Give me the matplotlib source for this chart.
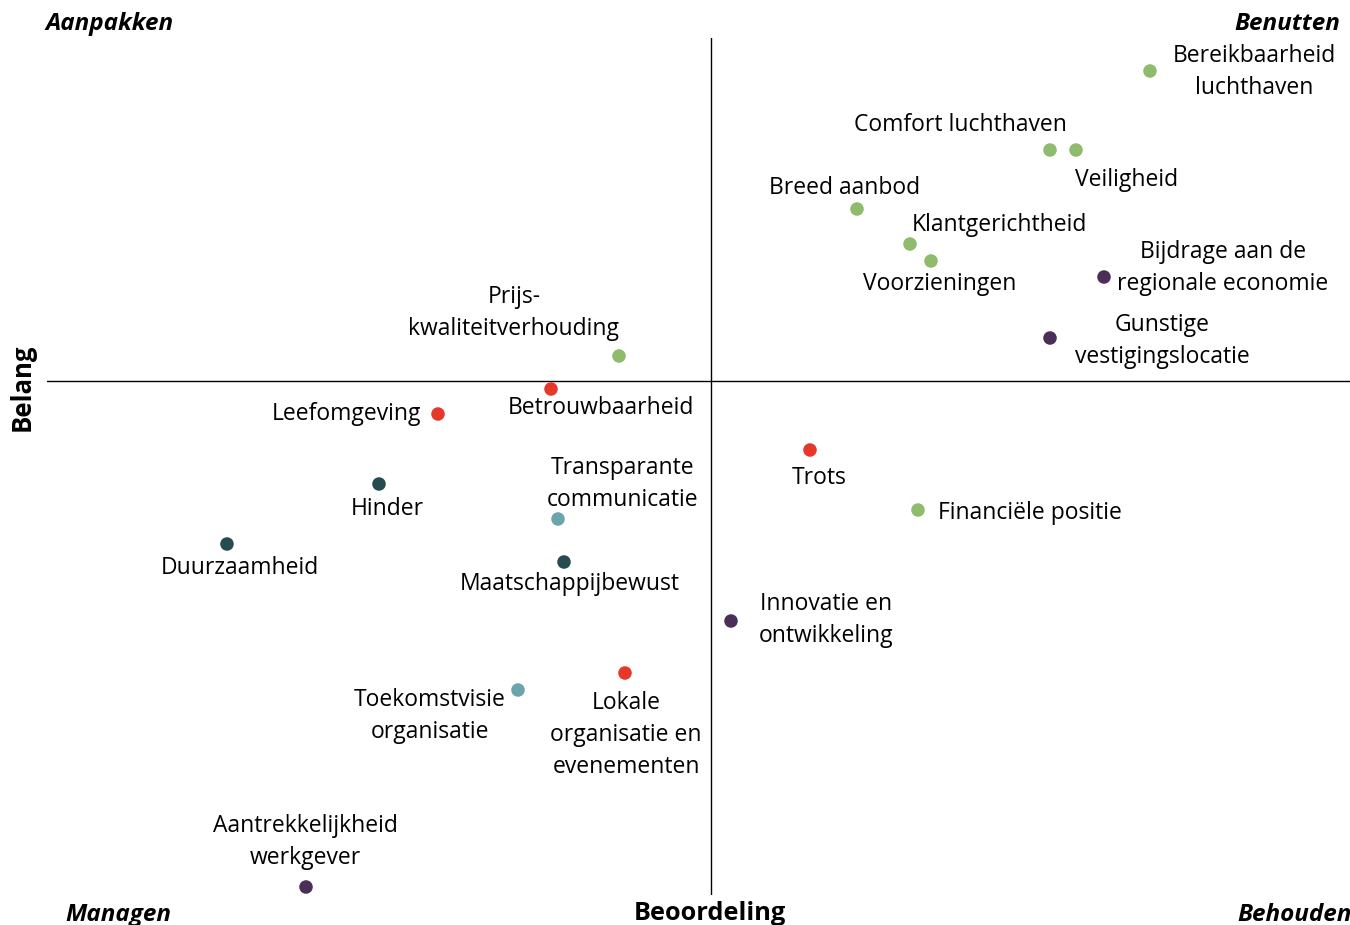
import matplotlib.pyplot as plt

plt.rcParams['font.family'] = ['Open Sans', 'DejaVu Sans']

# Beoordeling (x) en belang (y), relatief t.o.v. het gemiddelde
labels = ['Bereikbaarheid\nluchthaven', 'Comfort luchthaven', 'Veiligheid', 'Breed aanbod',
          'Klantgerichtheid', 'Voorzieningen', 'Bijdrage aan de\nregionale economie',
          'Gunstige\nvestigingslocatie', 'Prijs-\nkwaliteitverhouding', 'Betrouwbaarheid',
          'Leefomgeving', 'Hinder', 'Transparante\ncommunicatie', 'Duurzaamheid',
          'Maatschappijbewust', 'Trots', 'Financiële positie', 'Innovatie en\nontwikkeling',
          'Toekomstvisie\norganisatie', 'Lokale\norganisatie en\nevenementen',
          'Aantrekkelijkheid\nwerkgever']
beoordeling = [4.39, 3.39, 3.65, 1.46, 1.99, 2.20, 3.93, 3.39, -0.92, -1.60, -2.73,
               -3.32, -1.53, -4.84, -1.47, 0.99, 2.07, 0.20, -1.93, -0.86, -4.05]
belang = [3.10, 2.31, 2.31, 1.72, 1.37, 1.20, 1.04, 0.43, 0.25, -0.08, -0.33,
          -1.03, -1.38, -1.63, -1.81, -0.69, -1.29, -2.40, -3.09, -2.92, -5.06]
groep = ['g', 'g', 'g', 'g', 'g', 'g', 'p', 'p', 'g', 'r', 'r',
         'd', 't', 'd', 'd', 'r', 'g', 'p', 't', 'r', 'p']
kleuren = {'g': '#8fbc6c', 'p': '#4b2f58', 'r': '#e5382b', 'd': '#264b50', 't': '#6ba4ad'}

# label offsets (pixels)
offsets = [(104, 1), (-90, 27), (51, -28), (-12, 23), (89, 21), (9, -21), (119, 11),
           (112, -1), (-105, 45), (50, -17), (-91, 2), (8, -23), (65, 37), (13, -22),
           (6, -20), (9, -26), (112, -1), (95, 3), (-88, -24), (1, -60), (-1, 47)]

fig = plt.figure(figsize=(13.5, 9.25), dpi=100)
ax = fig.add_axes([47 / 1350, 30 / 925, 1303 / 1350, 857 / 925])
ax.set_xlim(-6.64, 6.39)
ax.set_ylim(-5.14, 3.43)
ax.axis('off')
ax.axhline(0, color='black', lw=1)
ax.axvline(0, color='black', lw=1)

ax.scatter(beoordeling, belang, s=95, c=[kleuren[g] for g in groep], zorder=3, linewidths=0)
for lab, x, y, (dx, dy) in zip(labels, beoordeling, belang, offsets):
    # -2 px: visual centre of the text sits slightly lower than matplotlib's box centre
    ax.annotate(lab, (x, y), xytext=(dx, dy - 2), textcoords='offset pixels', ha='center',
                va='center', fontsize=16.5, linespacing=1.42)

kw = dict(fontsize=17.5, fontweight='bold', style='italic', va='center')
fig.text(45 / 1350, 1 - 24 / 925, 'Aanpakken', ha='left', **kw)
fig.text(1340 / 1350, 1 - 24 / 925, 'Benutten', ha='right', **kw)
fig.text(65 / 1350, 1 - 915 / 925, 'Managen', ha='left', **kw)
fig.text(1352 / 1350, 1 - 915 / 925, 'Behouden', ha='right', **kw)
fig.text(710 / 1350, 1 - 913 / 925, 'Beoordeling', fontsize=18.3, fontweight='bold',
         ha='center', va='center')
fig.text(22 / 1350, 1 - 387 / 925, 'Belang', fontsize=18.5, fontweight='bold', rotation=90,
         ha='center', va='center')

fig.savefig('out.png')
